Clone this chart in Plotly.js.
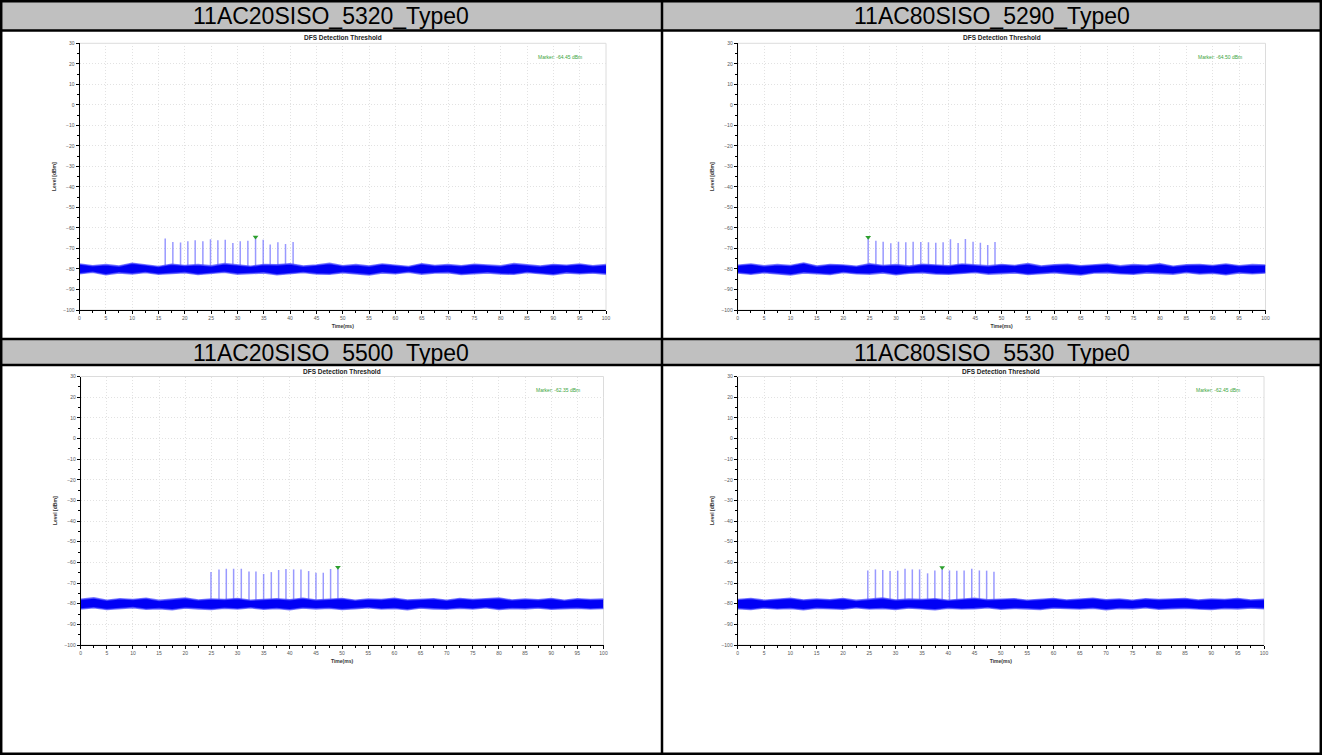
<!DOCTYPE html>
<html>
<head>
<meta charset="utf-8">
<script src="https://cdn.plot.ly/plotly-3.0.1.min.js"></script>
<style>html,body{margin:0;padding:0;background:#fff;}#chart{width:1322px;height:755px;}</style>
</head>
<body>
<div id="chart"></div>
<script>
// ---------------- DATA ----------------
const panelTitles = ["11AC20SISO_5320_Type0", "11AC80SISO_5290_Type0", "11AC20SISO_5500_Type0", "11AC80SISO_5530_Type0"];
const chartTitle = "DFS Detection Threshold";
const xTitle = "Time(ms)";
const yTitle = "Level [dBm]";
const markerLabels = ["Marker: -64.45 dBm", "Marker: -64.50 dBm", "Marker: -62.35 dBm", "Marker: -62.45 dBm"];
const markerIndex = [12, 0, 17, 10];

const pulseT1 = [16.28,17.73,19.19,20.58,21.97,23.43,24.88,26.28,27.68,29.13,30.53,31.98,33.44,34.89,36.22,37.68,39.13,40.57];
const pulseL1 = [-65.2,-66.8,-67.1,-66.5,-66.0,-66.5,-65.5,-66.0,-65.8,-67.3,-66.5,-66.2,-64.45,-65.8,-68.1,-67.0,-67.8,-66.8];
const pulseT2 = [24.72,26.18,27.56,29.01,30.46,31.85,33.24,34.69,36.14,37.53,38.92,40.31,41.76,43.14,44.59,45.98,47.37,48.75];
const pulseL2 = [-64.5,-66.2,-66.7,-67.5,-66.7,-67.0,-66.7,-66.8,-67.0,-67.2,-67.0,-65.5,-67.3,-65.4,-66.7,-67.2,-68.3,-66.8];
const pulseT3 = [24.92,26.45,27.85,29.25,30.72,32.19,33.52,34.99,36.46,37.86,39.26,40.73,42.13,43.60,45.00,46.40,47.80,49.20];
const pulseL3 = [-64.7,-63.5,-63.1,-63.1,-63.1,-64.4,-64.4,-65.6,-64.7,-63.7,-63.2,-63.4,-63.5,-64.2,-65.0,-65.0,-63.2,-62.35];
const pulseT4 = [24.72,26.17,27.56,28.95,30.40,31.79,33.18,34.56,36.08,37.46,38.85,40.24,41.63,43.02,44.47,45.92,47.30,48.69];
const pulseL4 = [-63.9,-63.4,-63.7,-64.2,-64.0,-63.1,-63.4,-63.4,-65.3,-63.9,-62.45,-63.9,-64.0,-63.9,-63.1,-63.9,-64.0,-64.5];

const noiseT = [0,2.5,5,7.5,10,12.5,15,17.5,20,22.5,25,27.5,30,32.5,35,37.5,40,42.5,45,47.5,50,52.5,55,57.5,60,62.5,65,67.5,70,72.5,75,77.5,80,82.5,85,87.5,90,92.5,95,97.5,100];
const noiseHi1 = [-77.6,-78.4,-77.9,-78.6,-77.2,-78.1,-78.8,-77.7,-78.3,-77.9,-78.5,-77.4,-78.2,-78.7,-77.8,-78.0,-77.5,-78.6,-78.1,-77.3,-78.4,-77.9,-78.6,-77.6,-78.2,-78.8,-77.5,-78.3,-77.9,-78.4,-77.7,-78.1,-78.5,-77.4,-78.0,-78.6,-77.8,-78.2,-77.6,-78.4,-77.9];
const noiseLo1 = [-82.3,-81.6,-82.8,-81.9,-82.4,-81.7,-82.6,-82.1,-81.8,-82.7,-82.0,-81.6,-82.5,-82.2,-81.9,-82.8,-82.1,-81.7,-82.4,-82.6,-81.8,-82.2,-82.9,-81.9,-82.3,-81.6,-82.5,-82.0,-81.8,-82.7,-82.2,-81.9,-82.4,-82.6,-81.7,-82.1,-82.8,-81.9,-82.3,-82.0,-82.5];
const noiseHi2 = [-78.2,-77.6,-78.5,-77.9,-78.3,-77.1,-78.6,-77.8,-78.1,-78.7,-77.5,-78.3,-77.9,-78.6,-77.7,-78.2,-78.4,-77.6,-78.0,-78.5,-77.8,-78.3,-77.4,-78.6,-78.0,-77.7,-78.4,-78.1,-77.6,-78.5,-77.9,-78.2,-77.5,-78.7,-78.0,-77.8,-78.3,-77.6,-78.4,-77.9,-78.1];
const noiseLo2 = [-82.0,-82.6,-81.8,-82.4,-82.9,-81.9,-82.2,-82.7,-81.7,-82.3,-82.5,-81.9,-82.8,-82.1,-81.8,-82.4,-82.6,-82.0,-81.7,-82.5,-82.2,-81.9,-82.7,-82.1,-81.8,-82.4,-82.9,-82.0,-81.8,-82.3,-82.6,-81.9,-82.2,-82.5,-81.7,-82.4,-82.1,-82.8,-81.9,-82.3,-82.0];
const noiseHi3 = [-77.9,-77.2,-78.3,-77.6,-78.0,-77.4,-78.4,-77.8,-77.3,-78.2,-77.7,-78.0,-77.5,-78.3,-77.9,-77.6,-78.1,-77.4,-78.2,-77.8,-77.5,-78.3,-77.7,-78.0,-77.4,-78.2,-77.9,-77.6,-78.3,-77.5,-78.0,-77.8,-77.3,-78.2,-77.7,-78.1,-77.5,-78.3,-77.6,-78.0,-77.8];
const noiseLo3 = [-82.6,-82.0,-82.8,-82.3,-81.9,-82.7,-82.4,-82.9,-82.1,-82.5,-82.8,-82.2,-82.6,-82.0,-82.7,-82.3,-82.9,-82.1,-82.5,-82.2,-82.8,-82.4,-82.0,-82.6,-82.3,-82.9,-82.1,-82.5,-82.7,-82.2,-82.6,-82.0,-82.8,-82.3,-82.5,-82.1,-82.7,-82.4,-82.2,-82.6,-82.3];
const noiseHi4 = [-78.0,-77.5,-78.3,-77.8,-77.4,-78.2,-77.7,-78.1,-77.5,-78.4,-77.9,-77.3,-78.2,-77.8,-78.0,-77.6,-78.3,-77.7,-77.4,-78.1,-77.9,-77.6,-78.3,-77.8,-77.5,-78.2,-77.9,-77.4,-78.1,-77.7,-78.3,-77.6,-78.0,-77.8,-77.5,-78.2,-77.7,-78.0,-77.5,-78.2,-77.9];
const noiseLo4 = [-82.4,-82.8,-82.1,-82.6,-82.3,-82.9,-82.2,-82.5,-82.7,-82.0,-82.6,-82.3,-82.8,-82.1,-82.5,-82.9,-82.2,-82.6,-82.4,-82.0,-82.7,-82.3,-82.5,-82.8,-82.1,-82.4,-82.6,-82.2,-82.9,-82.3,-82.5,-82.0,-82.7,-82.4,-82.2,-82.6,-82.8,-82.3,-82.5,-82.1,-82.4];
const pulseBase = -80;

// ---------------- BUILD ----------------
const W = 1322, H = 755;
const px = v => v / W;
const py = v => 1 - v / H;

const panels = [
  {t: pulseT1, l: pulseL1, hi: noiseHi1, lo: noiseLo1, xd: [79.5, 606], yd: [310, 43.3]},
  {t: pulseT2, l: pulseL2, hi: noiseHi2, lo: noiseLo2, xd: [737.7, 1265.5], yd: [310, 43.3]},
  {t: pulseT3, l: pulseL3, hi: noiseHi3, lo: noiseLo3, xd: [80.7, 603.5], yd: [645, 376.5]},
  {t: pulseT4, l: pulseL4, hi: noiseHi4, lo: noiseLo4, xd: [737.7, 1264], yd: [645, 376.5]}
];

const font = "Liberation Sans, Arial, sans-serif";
const narrow = "Liberation Sans Narrow, Liberation Sans, Arial, sans-serif";
const data = [];
const layout = {
  width: W, height: H, autosize: false,
  margin: {l: 0, r: 0, t: 0, b: 0},
  paper_bgcolor: "#ffffff", plot_bgcolor: "#ffffff",
  showlegend: false,
  font: {family: font},
  shapes: [], annotations: []
};

panels.forEach((p, i) => {
  const k = i === 0 ? "" : String(i + 1);
  const xa = "x" + k, ya = "y" + k;
  // pulses
  const xs = [], ys = [];
  p.t.forEach((t, j) => { xs.push(t, t, null); ys.push(pulseBase, p.l[j], null); });
  data.push({type: "scatter", mode: "lines", x: xs, y: ys, xaxis: xa, yaxis: ya,
    line: {color: "rgba(110,110,255,0.7)", width: 1.5}, hoverinfo: "skip"});
  // noise band
  data.push({type: "scatter", mode: "lines", x: noiseT, y: p.lo, xaxis: xa, yaxis: ya,
    line: {color: "rgba(80,80,255,0.75)", width: 1.6}, hoverinfo: "skip"});
  data.push({type: "scatter", mode: "lines", x: noiseT, y: p.hi, xaxis: xa, yaxis: ya,
    fill: "tonexty", fillcolor: "rgba(0,0,245,1)",
    line: {color: "rgba(80,80,255,0.75)", width: 1.6}, hoverinfo: "skip"});
  // marker
  const mi = markerIndex[i];
  data.push({type: "scatter", mode: "markers", x: [p.t[mi]], y: [p.l[mi]], xaxis: xa, yaxis: ya,
    marker: {symbol: "triangle-down", size: 5, color: "#2ca02c"}, hoverinfo: "skip"});

  layout["xaxis" + k] = {
    domain: [px(p.xd[0]), px(p.xd[1])], anchor: ya, range: [0, 100],
    tick0: 0, dtick: 5, ticks: "outside", ticklen: 3, tickcolor: "#000", tickwidth: 1,
    showline: true, linecolor: "#000", linewidth: 1,
    showgrid: true, gridcolor: "#e2e2e2", griddash: "1px,2px", gridwidth: 1, zeroline: false,
    tickfont: {size: 5, color: "#555", family: narrow},
    minor: {dtick: 2.5, ticks: "outside", ticklen: 2, tickcolor: "#000", showgrid: false},
    title: {text: xTitle, font: {size: 5, color: "#333", family: font, weight: "bold"}, standoff: 4},
    fixedrange: true
  };
  layout["yaxis" + k] = {
    domain: [py(p.yd[0]), py(p.yd[1])], anchor: xa, range: [-100, 30],
    tick0: -100, dtick: 10, ticks: "outside", ticklen: 3, tickcolor: "#000", tickwidth: 1,
    showline: true, linecolor: "#000", linewidth: 1,
    showgrid: true, gridcolor: "#e2e2e2", griddash: "1px,2px", gridwidth: 1, zeroline: false,
    tickfont: {size: 5, color: "#555", family: narrow},
    minor: {dtick: 5, ticks: "outside", ticklen: 2, tickcolor: "#000", showgrid: false},
    title: {text: yTitle, font: {size: 5, color: "#333", family: font, weight: "bold"}, standoff: 6},
    fixedrange: true
  };
  // plot box
  layout.shapes.push({type: "rect", xref: xa + " domain", yref: ya + " domain", x0: 0, x1: 1, y0: 0, y1: 1,
    line: {color: "#dcdcdc", width: 1}, layer: "below"});
  // chart title
  layout.annotations.push({xref: xa + " domain", yref: "paper", x: 0.5, y: py(p.yd[1] - 5.5),
    text: "<b>" + chartTitle + "</b>", showarrow: false, font: {size: 6.5, color: "#222", family: font},
    xanchor: "center", yanchor: "middle"});
  // marker label
  layout.annotations.push({xref: xa, yref: ya, x: 91.3, y: 23.3, text: markerLabels[i], showarrow: false,
    font: {size: 5, color: "#3aa53a", family: narrow}, xanchor: "center", yanchor: "middle"});
});

// table: header bars and borders
const gray = "#c0c0c0";
layout.shapes.push({type: "rect", xref: "paper", yref: "paper", x0: 0, x1: 1, y0: py(30.5), y1: py(1.5), fillcolor: gray, line: {width: 0}, layer: "below"});
layout.shapes.push({type: "rect", xref: "paper", yref: "paper", x0: 0, x1: 1, y0: py(365), y1: py(339), fillcolor: gray, line: {width: 0}, layer: "below"});
[30.5, 339, 365].forEach(y => layout.shapes.push({type: "line", xref: "paper", yref: "paper", x0: 0, x1: 1, y0: py(y), y1: py(y), line: {color: "#000", width: 2.5}}));
layout.shapes.push({type: "line", xref: "paper", yref: "paper", x0: px(662), x1: px(662), y0: 0, y1: 1, line: {color: "#000", width: 2.5}});
layout.shapes.push({type: "rect", xref: "paper", yref: "paper", x0: px(1.2), x1: px(1320.8), y0: py(753.8), y1: py(1.2), line: {color: "#000", width: 2.5}});

const hdr = [[331, 16.5], [992, 16.5], [331, 352.5], [992, 352.5]];
hdr.forEach((h, i) => layout.annotations.push({xref: "paper", yref: "paper", x: px(h[0]), y: py(h[1]),
  text: panelTitles[i], showarrow: false, font: {size: 23, color: "#000", family: font},
  xanchor: "center", yanchor: "middle"}));

Plotly.newPlot("chart", data, layout, {staticPlot: true, displayModeBar: false});
</script>
</body>
</html>
